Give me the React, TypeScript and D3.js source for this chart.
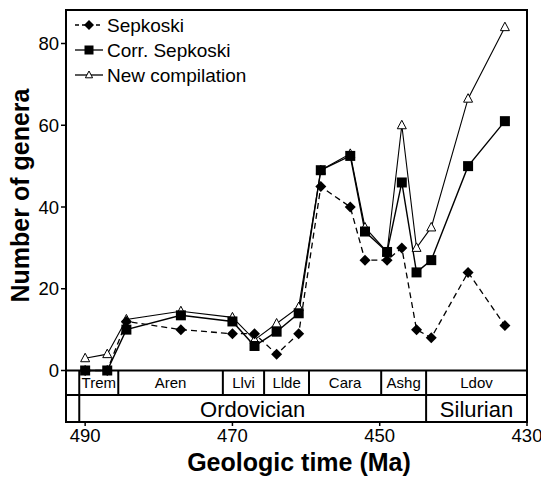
import React from 'react';
import * as d3 from 'd3';

const times = [490, 487, 484.4, 477, 470, 467, 464, 461, 458, 454, 452, 449, 447, 445, 443, 438, 433];
const sepkoski = [0, 0, 12, 10, 9, 9, 4, 9, 45, 40, 27, 27, 30, 10, 8, 24, 11];
const corrSepkoski = [0, 0, 10, 13.5, 12, 6, 9.5, 14, 49, 52.5, 34, 29, 46, 24, 27, 50, 61];
const newCompilation = [3, 4, 12.5, 14.5, 13, 7.5, 11.5, 15.5, 49, 53, 35, 29, 60, 30, 35, 66.5, 84];

const stageNames = ['Trem', 'Aren', 'Llvi', 'Llde', 'Cara', 'Ashg', 'Ldov'];
const stageBounds = [490.8, 485.5, 471.3, 465.7, 459.6, 449.8, 443.7, 430];
const periodNames = ['Ordovician', 'Silurian'];
const periodBounds = [490.8, 443.7, 430];

const xTicks = [490, 470, 450, 430];
const yTicks = [0, 20, 40, 60, 80];

const FONT = '"Liberation Sans", Arial, Helvetica, sans-serif';

const App: React.FC = () => {
  const width = 541;
  const height = 477;
  const frame = { left: 66, right: 527, top: 10, bottom: 422 };

  const x = d3.scaleLinear().domain([492.6, 430]).range([frame.left, frame.right]);
  const y = d3.scaleLinear().domain([0, 80]).range([370.5, 43.5]);
  const stageTop = y(0);
  const stageBottom = 395;

  const line = d3
    .line<number>()
    .x((_, i) => x(times[i]))
    .y((d) => y(d));

  const diamond = (cx: number, cy: number, r = 5.5) =>
    `M${cx},${cy - r}L${cx + r},${cy}L${cx},${cy + r}L${cx - r},${cy}Z`;
  const triangle = (cx: number, cy: number, r = 5) =>
    `M${cx},${cy - r}L${cx + r * 0.9},${cy + r * 0.7}L${cx - r * 0.9},${cy + r * 0.7}Z`;

  const legend = [
    { label: 'Sepkoski', kind: 'diamond', dash: '4,3' },
    { label: 'Corr. Sepkoski', kind: 'square', dash: undefined },
    { label: 'New compilation', kind: 'triangle', dash: undefined },
  ];

  return (
    <svg
      width={width}
      height={height}
      style={{ position: 'absolute', left: 0, top: 0, background: '#fff' }}
      fontFamily={FONT}
    >
      {/* data lines */}
      <path d={line(newCompilation) || ''} fill="none" stroke="#000" strokeWidth={1.1} />
      <path d={line(corrSepkoski) || ''} fill="none" stroke="#000" strokeWidth={1.4} />
      <path d={line(sepkoski) || ''} fill="none" stroke="#000" strokeWidth={1.3} strokeDasharray="6,4" />

      {/* markers: triangles underneath, squares on top */}
      {newCompilation.map((d, i) => (
        <path key={`n${i}`} d={triangle(x(times[i]), y(d))} fill="#fff" stroke="#000" strokeWidth={1} />
      ))}
      {sepkoski.map((d, i) => (
        <path key={`s${i}`} d={diamond(x(times[i]), y(d))} fill="#000" />
      ))}
      {corrSepkoski.map((d, i) => (
        <rect key={`c${i}`} x={x(times[i]) - 5} y={y(d) - 5} width={10} height={10} fill="#000" />
      ))}

      {/* stage and period bars */}
      <line x1={frame.left} x2={frame.right} y1={stageTop} y2={stageTop} stroke="#000" strokeWidth={2} />
      <line x1={frame.left} x2={frame.right} y1={stageBottom} y2={stageBottom} stroke="#000" strokeWidth={2} />
      {stageBounds.slice(0, -1).map((b, i) => (
        <line key={`sb${i}`} x1={x(b)} x2={x(b)} y1={stageTop} y2={stageBottom} stroke="#000" strokeWidth={2} />
      ))}
      {periodBounds.slice(0, -1).map((b, i) => (
        <line key={`pb${i}`} x1={x(b)} x2={x(b)} y1={stageBottom} y2={frame.bottom} stroke="#000" strokeWidth={2} />
      ))}
      {stageNames.map((s, i) => (
        <text
          key={s}
          x={(x(stageBounds[i]) + x(stageBounds[i + 1])) / 2}
          y={(stageTop + stageBottom) / 2 + 5.5}
          textAnchor="middle"
          fontSize={15}
        >
          {s}
        </text>
      ))}
      {periodNames.map((p, i) => (
        <text
          key={p}
          x={(x(periodBounds[i]) + x(periodBounds[i + 1])) / 2}
          y={(stageBottom + frame.bottom) / 2 + 8}
          textAnchor="middle"
          fontSize={22}
        >
          {p}
        </text>
      ))}

      {/* frame */}
      <rect
        x={frame.left}
        y={frame.top}
        width={frame.right - frame.left}
        height={frame.bottom - frame.top}
        fill="none"
        stroke="#000"
        strokeWidth={2}
      />

      {/* y axis */}
      {yTicks.map((t) => (
        <g key={`y${t}`}>
          <line x1={frame.left - 5} x2={frame.left} y1={y(t)} y2={y(t)} stroke="#000" strokeWidth={1.5} />
          <text x={frame.left - 7} y={y(t) + 6.5} textAnchor="end" fontSize={18.5}>
            {t}
          </text>
        </g>
      ))}
      <text
        transform="translate(29,195.5) rotate(-90)"
        textAnchor="middle"
        fontSize={25}
        fontWeight="bold"
      >
        Number of genera
      </text>

      {/* x axis */}
      {xTicks.map((t) => (
        <g key={`x${t}`}>
          <line x1={x(t)} x2={x(t)} y1={frame.bottom} y2={frame.bottom + 4} stroke="#000" strokeWidth={1.5} />
          <text x={x(t)} y={frame.bottom + 20} textAnchor="middle" fontSize={18.5}>
            {t}
          </text>
        </g>
      ))}
      <text x={299} y={471} textAnchor="middle" fontSize={25} fontWeight="bold">
        Geologic time (Ma)
      </text>

      {/* legend */}
      {legend.map((l, i) => {
        const ly = 25 + i * 25;
        const mx = 89;
        return (
          <g key={l.label}>
            <line x1={75} x2={103} y1={ly} y2={ly} stroke="#000" strokeWidth={1.3} strokeDasharray={l.dash} />
            {l.kind === 'diamond' && <path d={diamond(mx, ly, 5)} fill="#000" />}
            {l.kind === 'square' && <rect x={mx - 4.5} y={ly - 4.5} width={9} height={9} fill="#000" />}
            {l.kind === 'triangle' && (
              <path d={triangle(mx, ly, 4)} fill="#fff" stroke="#000" strokeWidth={1} />
            )}
            <text x={107} y={ly + 6.5} fontSize={19}>
              {l.label}
            </text>
          </g>
        );
      })}
    </svg>
  );
};

export default App;
